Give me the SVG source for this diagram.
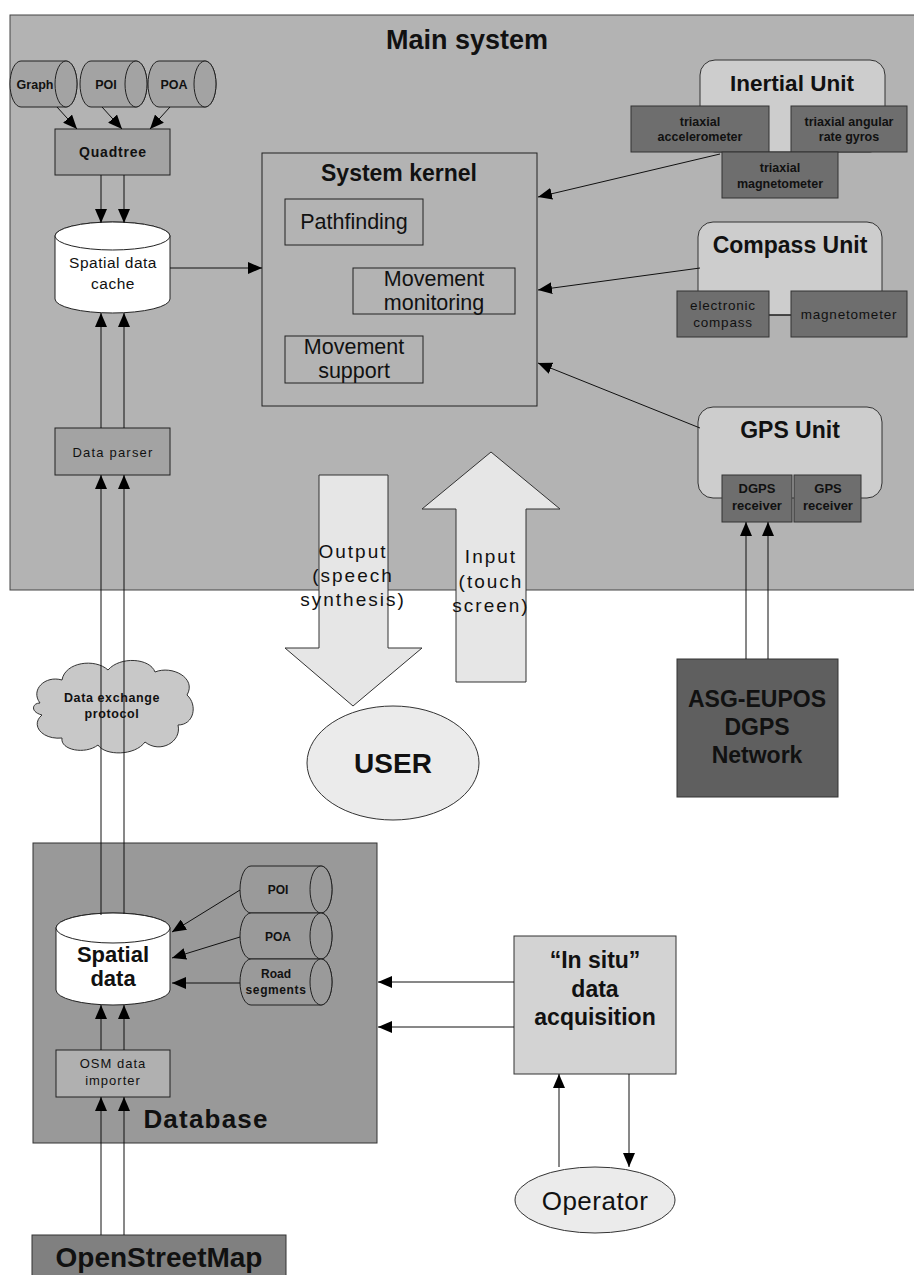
<svg xmlns="http://www.w3.org/2000/svg" width="914" height="1275" viewBox="0 0 914 1275">
<defs>
<marker id="ah" markerUnits="userSpaceOnUse" markerWidth="14" markerHeight="12" refX="14" refY="6" orient="auto">
<path d="M0,0 L14,6 L0,12 Z" fill="#000"/>
</marker>
<style>
text{font-family:"Liberation Sans",Arial,sans-serif;fill:#111;text-anchor:middle}
.b{font-weight:bold}
.c{stroke:#111;stroke-width:1;fill:none}
.ca{stroke:#111;stroke-width:1;fill:none;marker-end:url(#ah)}
.dark{fill:#6e6e6e;stroke:#333}
.unit{fill:#cdcdcd;stroke:#333}
.cyl{fill:#a3a3a3;stroke:#222}
</style>
</defs>
<rect width="914" height="1275" fill="#fff"/>
<g id="main-system">
<rect x="10" y="15" width="915" height="575" fill="#b3b3b3" stroke="#444"/>
<text x="467" y="49" class="b" font-size="27">Main system</text>
</g>
<g id="database">
<rect x="33" y="843" width="344" height="300" fill="#999" stroke="#333"/>
<text x="206" y="1128" class="b" font-size="26" letter-spacing="1.2">Database</text>
</g>
<g id="cyl-graph">
<path class="cyl" d="M21,61 H66 A11,23 0 0 1 66,107 H21 A11,23 0 0 1 21,61 Z"/>
<text x="35" y="89" class="b" font-size="12.5">Graph</text>
<ellipse class="cyl" cx="66" cy="84" rx="11" ry="23"/>
</g>
<g id="cyl-poi">
<path class="cyl" d="M91,61 H136 A11,23 0 0 1 136,107 H91 A11,23 0 0 1 91,61 Z"/>
<text x="106" y="89" class="b" font-size="12.5">POI</text>
<ellipse class="cyl" cx="136" cy="84" rx="11" ry="23"/>
</g>
<g id="cyl-poa">
<path class="cyl" d="M159,61 H205 A11,23 0 0 1 205,107 H159 A11,23 0 0 1 159,61 Z"/>
<text x="174" y="89" class="b" font-size="12.5">POA</text>
<ellipse class="cyl" cx="205" cy="84" rx="11" ry="23"/>
</g>
<g id="quadtree">
<rect x="55" y="129" width="115" height="46" fill="#a3a3a3" stroke="#222"/>
<text x="113" y="157" class="b" font-size="14" letter-spacing="0.8">Quadtree</text>
</g>
<g id="cache">
<path d="M55,236 A57.5,14 0 0 1 170,236 V299 A57.5,14 0 0 1 55,299 Z" fill="#fff" stroke="#222"/>
<ellipse cx="112.5" cy="236" rx="57.5" ry="14" fill="#fff" stroke="#222"/>
<text x="113" y="268" font-size="15.5" letter-spacing="0.5">Spatial data</text>
<text x="113" y="289" font-size="15.5" letter-spacing="0.5">cache</text>
</g>
<g id="data-parser">
<rect x="55" y="428" width="115" height="47" fill="#a3a3a3" stroke="#222"/>
<text x="113" y="457" font-size="13" letter-spacing="1.2">Data parser</text>
</g>
<g id="kernel">
<rect x="262" y="153" width="275" height="253" fill="none" stroke="#222"/>
<text x="399" y="181" class="b" font-size="23">System kernel</text>
<rect x="285" y="199" width="138" height="46" fill="none" stroke="#222"/>
<text x="354" y="229" font-size="21.5">Pathfinding</text>
<rect x="353" y="268" width="162" height="46" fill="none" stroke="#222"/>
<text x="434" y="286" font-size="21.5">Movement</text>
<text x="434" y="310" font-size="21.5">monitoring</text>
<rect x="285" y="336" width="138" height="47" fill="none" stroke="#222"/>
<text x="354" y="354" font-size="21.5">Movement</text>
<text x="354" y="378" font-size="21.5">support</text>
</g>
<g id="inertial-unit">
<rect class="unit" x="700" y="60" width="185" height="92" rx="15"/>
<text x="792" y="91" class="b" font-size="22.5">Inertial Unit</text>
<rect class="dark" x="631" y="106" width="138" height="46"/>
<text x="700" y="126" class="b" font-size="12.5">triaxial</text>
<text x="700" y="141" class="b" font-size="12.5">accelerometer</text>
<rect class="dark" x="791" y="106" width="116" height="46"/>
<text x="849" y="126" class="b" font-size="12.5">triaxial angular</text>
<text x="849" y="141" class="b" font-size="12.5">rate gyros</text>
<rect class="dark" x="722" y="152" width="116" height="46"/>
<text x="780" y="172" class="b" font-size="12.5">triaxial</text>
<text x="780" y="188" class="b" font-size="12.5">magnetometer</text>
</g>
<g id="compass-unit">
<rect class="unit" x="698" y="222" width="184" height="93" rx="15"/>
<text x="790" y="253" class="b" font-size="23">Compass Unit</text>
<line class="c" x1="769" y1="315" x2="791" y2="315"/>
<rect class="dark" x="677" y="291" width="92" height="46"/>
<text x="723" y="310" font-size="13.5" letter-spacing="0.8">electronic</text>
<text x="723" y="327" font-size="13.5" letter-spacing="0.8">compass</text>
<rect class="dark" x="791" y="291" width="116" height="46"/>
<text x="849" y="319" font-size="13.5" letter-spacing="0.8">magnetometer</text>
</g>
<g id="gps-unit">
<rect class="unit" x="698" y="407" width="184" height="91" rx="15"/>
<text x="790" y="438" class="b" font-size="23">GPS Unit</text>
<rect class="dark" x="722" y="475" width="70" height="47"/>
<text x="757" y="493" class="b" font-size="13">DGPS</text>
<text x="757" y="510" class="b" font-size="13">receiver</text>
<rect class="dark" x="794" y="475" width="67" height="47"/>
<text x="828" y="493" class="b" font-size="13">GPS</text>
<text x="828" y="510" class="b" font-size="13">receiver</text>
</g>
<g id="output-arrow">
<polygon points="319,475 388,475 388,648 422,648 353,706 285,648 319,648" fill="#e6e6e6" stroke="#333"/>
<text x="353" y="558" font-size="19" letter-spacing="2">Output</text>
<text x="353" y="582" font-size="19" letter-spacing="2">(speech</text>
<text x="353" y="606" font-size="19" letter-spacing="2">synthesis)</text>
</g>
<g id="input-arrow">
<polygon points="491,452 560,509 526,509 526,682 456,682 456,509 422,509" fill="#e6e6e6" stroke="#333"/>
<text x="491" y="563" font-size="19" letter-spacing="2">Input</text>
<text x="491" y="588" font-size="19" letter-spacing="2">(touch</text>
<text x="491" y="612" font-size="19" letter-spacing="2">screen)</text>
</g>
<g id="user">
<ellipse cx="393" cy="763" rx="86" ry="57" fill="#ebebeb" stroke="#333"/>
<text x="393" y="773" class="b" font-size="28">USER</text>
</g>
<g id="cloud">
<path d="M40,703 C30,690 45,675 62,680 C65,662 95,658 108,670 C120,656 150,658 155,672 C172,665 197,678 187,695 C198,705 194,725 178,725 C182,742 160,754 145,742 C135,756 105,756 98,745 C85,755 60,750 62,738 C42,740 30,725 42,715 C30,712 32,703 40,703 Z" fill="#c8c8c8" stroke="#333"/>
<text x="112" y="702" class="b" font-size="12.5" letter-spacing="0.6">Data exchange</text>
<text x="112" y="718" class="b" font-size="12.5" letter-spacing="0.6">protocol</text>
</g>
<g id="asg-eupos">
<rect x="677" y="659" width="161" height="138" fill="#5f5f5f" stroke="#333"/>
<text x="757" y="707" class="b" font-size="23">ASG-EUPOS</text>
<text x="757" y="735" class="b" font-size="23">DGPS</text>
<text x="757" y="763" class="b" font-size="23">Network</text>
</g>
<g id="spatial-data">
<path d="M56,928 A57,15 0 0 1 170,928 V990 A57,15 0 0 1 56,990 Z" fill="#fff" stroke="#222"/>
<ellipse cx="113" cy="928" rx="57" ry="15" fill="#fff" stroke="#222"/>
<text x="113" y="962" class="b" font-size="22">Spatial</text>
<text x="113" y="986" class="b" font-size="22">data</text>
</g>
<g id="db-poi">
<path class="cyl" d="M251,866 H321 A11,23.5 0 0 1 321,913 H251 A11,23.5 0 0 1 251,866 Z" style="fill:#9a9a9a"/>
<ellipse class="cyl" cx="321" cy="889.5" rx="11" ry="23.5" style="fill:#9a9a9a"/>
<text x="278" y="894" class="b" font-size="12">POI</text>
</g>
<g id="db-poa">
<path class="cyl" d="M251,913 H321 A11,23 0 0 1 321,959 H251 A11,23 0 0 1 251,913 Z" style="fill:#9a9a9a"/>
<ellipse class="cyl" cx="321" cy="936" rx="11" ry="23" style="fill:#9a9a9a"/>
<text x="278" y="941" class="b" font-size="12">POA</text>
</g>
<g id="db-road">
<path class="cyl" d="M251,959 H321 A11,23 0 0 1 321,1005 H251 A11,23 0 0 1 251,959 Z" style="fill:#9a9a9a"/>
<ellipse class="cyl" cx="321" cy="982" rx="11" ry="23" style="fill:#9a9a9a"/>
<text x="276" y="978" class="b" font-size="12">Road</text>
<text x="276" y="994" class="b" font-size="12" letter-spacing="0.6">segments</text>
</g>
<g id="osm-importer">
<rect x="56" y="1050" width="114" height="47" fill="#b0b0b0" stroke="#222"/>
<text x="113" y="1068" font-size="13" letter-spacing="1">OSM data</text>
<text x="113" y="1085" font-size="13" letter-spacing="1">importer</text>
</g>
<g id="openstreetmap">
<rect x="32" y="1235" width="254" height="50" fill="#808080" stroke="#333"/>
<text x="159" y="1267" class="b" font-size="28">OpenStreetMap</text>
</g>
<g id="in-situ">
<rect x="514" y="936" width="162" height="138" fill="#d3d3d3" stroke="#333"/>
<text x="595" y="968" class="b" font-size="23">“In situ”</text>
<text x="595" y="997" class="b" font-size="23">data</text>
<text x="595" y="1025" class="b" font-size="23">acquisition</text>
</g>
<g id="operator">
<ellipse cx="595" cy="1200" rx="80" ry="33" fill="#ebebeb" stroke="#333"/>
<text x="595" y="1210" font-size="26" letter-spacing="0.5">Operator</text>
</g>
<g id="connectors">
<line class="ca" x1="57" y1="107" x2="77" y2="129"/>
<line class="ca" x1="102" y1="107" x2="122" y2="129"/>
<line class="ca" x1="170" y1="107" x2="150" y2="129"/>
<line class="ca" x1="101" y1="175" x2="101" y2="223"/>
<line class="ca" x1="124" y1="175" x2="124" y2="223"/>
<line class="ca" x1="170" y1="268" x2="262" y2="268"/>
<line class="ca" x1="101" y1="428" x2="101" y2="313"/>
<line class="ca" x1="124" y1="428" x2="124" y2="313"/>
<line class="ca" x1="101" y1="915" x2="101" y2="475"/>
<line class="ca" x1="124" y1="914" x2="124" y2="475"/>
<line class="ca" x1="101" y1="1050" x2="101" y2="1005"/>
<line class="ca" x1="124" y1="1050" x2="124" y2="1005"/>
<line class="ca" x1="101" y1="1235" x2="101" y2="1097"/>
<line class="ca" x1="124" y1="1235" x2="124" y2="1097"/>
<line class="ca" x1="720" y1="154" x2="538" y2="197"/>
<line class="ca" x1="700" y1="268" x2="538" y2="290"/>
<line class="ca" x1="700" y1="428" x2="538" y2="363"/>
<line class="ca" x1="746" y1="659" x2="746" y2="522"/>
<line class="ca" x1="768" y1="659" x2="768" y2="522"/>
<line class="ca" x1="240" y1="890" x2="172" y2="932"/>
<line class="ca" x1="240" y1="937" x2="172" y2="958"/>
<line class="ca" x1="240" y1="983" x2="172" y2="983"/>
<line class="ca" x1="514" y1="982" x2="378" y2="982"/>
<line class="ca" x1="514" y1="1027" x2="378" y2="1027"/>
<line class="ca" x1="559" y1="1167" x2="559" y2="1074"/>
<line class="ca" x1="629" y1="1074" x2="629" y2="1167"/>
</g>
</svg>
